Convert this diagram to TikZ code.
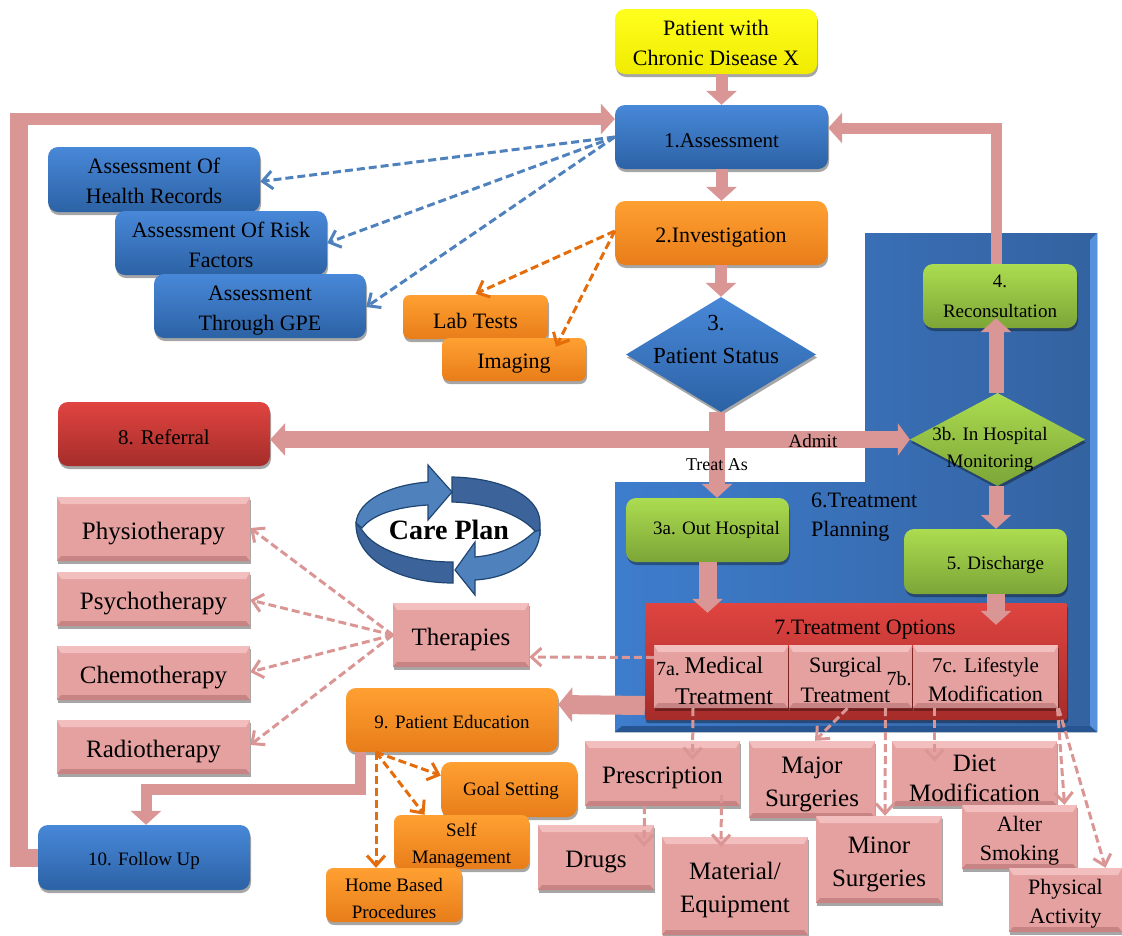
\documentclass[tikz,border=0pt]{standalone}
\usepackage{fontspec}
\usepackage{xcolor}
\setmainfont{Liberation Serif}
\usetikzlibrary{arrows.meta,shapes.geometric,shadows}

\newcommand{\fsize}[2]{\fontsize{#1}{#2}\selectfont}
\newcommand{\drop}{\rule{0pt}{1.05em}}

\tikzset{
	basebox/.style={rectangle, inner sep=0pt, align=center, text=black,
		drop shadow={shadow xshift=1pt, shadow yshift=-3pt, opacity=0.35, fill=black}},
	boxsize/.style 2 args={minimum width=#1pt, minimum height=#2pt},
	roundbox/.style={basebox, rounded corners=10pt},
	yellowbox/.style={roundbox, top color=YELLOW_TOP, bottom color=YELLOW_LOW},
	bluebox/.style={roundbox, top color=BLUE_TOP, bottom color=BLUE_LOW},
	orangebox/.style={roundbox, top color=ORANGE_TOP, bottom color=ORANGE_LOW},
	greenbox/.style={roundbox, top color=GREEN_TOP, bottom color=GREEN_LOW},
	redbox/.style={roundbox, top color=RED_TOP, bottom color=RED_LOW},
	pinkbox/.style={basebox, fill=PINK, path picture={
		\fill[PINK_LIGHT] (path picture bounding box.north west) -- (path picture bounding box.north east)
			-- ([xshift=-4pt,yshift=-7pt]path picture bounding box.north east)
			-- ([xshift=4pt,yshift=-7pt]path picture bounding box.north west) -- cycle;
		\fill[PINK_DARK] (path picture bounding box.south west) -- (path picture bounding box.south east)
			-- ([xshift=-4pt,yshift=5pt]path picture bounding box.south east)
			-- ([xshift=4pt,yshift=5pt]path picture bounding box.south west) -- cycle;
	}},
	statusdiamond/.style={diamond, inner sep=0pt, top color=BLUE_TOP, bottom color=BLUE_LOW,
		drop shadow={shadow xshift=1pt, shadow yshift=-3pt, opacity=0.35, fill=black}},
	wardiamond/.style={diamond, inner sep=0pt, top color=GREEN_TOP, bottom color=GREEN_LOW,
		drop shadow={shadow xshift=1pt, shadow yshift=-3pt, opacity=0.35, fill=black}},
	plaintext/.style={inner sep=0pt, align=center, text=black},
	flow/.style={draw=FLOW, line width=#1},
	flowtip/.style={-{Triangle[length=14pt,width=30pt]}},
	pinkdash/.style={draw=FLOW, line width=3pt, dash pattern=on 8pt off 4pt, -{Straight Barb[length=10pt,width=18pt]}},
	bluedash/.style={draw=RING_LIGHT, line width=3pt, dash pattern=on 8pt off 4pt, -{Straight Barb[length=10pt,width=18pt]}},
	orangedash/.style={draw=ORANGE_DASH, line width=3pt, dash pattern=on 8pt off 4pt, -{Straight Barb[length=10pt,width=18pt]}}
}

\begin{document}
\begin{tikzpicture}[x=1pt, y=-1pt]
	\definecolor{YELLOW_TOP}{RGB}{255, 255, 30}
	\definecolor{YELLOW_LOW}{RGB}{240, 235, 0}
	\definecolor{BLUE_TOP}{RGB}{72, 136, 216}
	\definecolor{BLUE_LOW}{RGB}{44, 98, 165}
	\definecolor{ORANGE_TOP}{RGB}{255, 160, 50}
	\definecolor{ORANGE_LOW}{RGB}{232, 125, 25}
	\definecolor{GREEN_TOP}{RGB}{172, 220, 80}
	\definecolor{GREEN_LOW}{RGB}{124, 165, 55}
	\definecolor{RED_TOP}{RGB}{224, 68, 64}
	\definecolor{RED_LOW}{RGB}{165, 45, 42}
	\definecolor{PINK}{RGB}{229, 160, 160}
	\definecolor{PINK_LIGHT}{RGB}{242, 190, 190}
	\definecolor{PINK_DARK}{RGB}{200, 132, 132}
	\definecolor{FLOW}{RGB}{217, 150, 148}
	\definecolor{RING_LIGHT}{RGB}{79, 129, 189}
	\definecolor{RING_DARK}{RGB}{60, 100, 155}
	\definecolor{RING_EDGE}{RGB}{32, 70, 115}
	\definecolor{PANEL_LEFT}{RGB}{62, 125, 205}
	\definecolor{PANEL_RIGHT}{RGB}{52, 98, 160}
	\definecolor{PANEL_EDGE}{RGB}{85, 145, 220}
	\definecolor{PANEL_LOW}{RGB}{38, 85, 145}
	\definecolor{ORANGE_DASH}{RGB}{228, 108, 10}

	\useasboundingbox (0,0) rectangle (1122,935);

	% panel behind the treatment part
	\fill[left color=PANEL_LEFT, right color=PANEL_RIGHT] (865,233) -- (1097,233) -- (1097,732) -- (615,732)
		-- (615,482) -- (865,482) -- cycle;
	\fill[PANEL_EDGE] (1090,240) -- (1097,233) -- (1097,732) -- (1090,726) -- cycle;
	\fill[PANEL_LOW] (622,726) -- (1090,726) -- (1097,732) -- (615,732) -- cycle;

	% care plan ring
	\begin{scope}[draw=RING_EDGE, line width=1.2pt]
		\filldraw[fill=RING_DARK] (452,477) .. controls (500,478) and (540,495) .. (540,523)
			-- (540,535) -- (534,530) .. controls (520,515) and (490,503) .. (452,502) -- cycle;
		\filldraw[fill=RING_DARK] (356,523) .. controls (355,560) and (400,583) .. (453,583)
			-- (453,562) .. controls (410,562) and (375,550) .. (362,530) -- cycle;
		\filldraw[fill=RING_LIGHT] (356,523) .. controls (358,500) and (390,485) .. (428,482)
			-- (428,465) -- (452,492) -- (428,520) -- (428,505)
			.. controls (395,507) and (372,515) .. (362,528) -- cycle;
		\filldraw[fill=RING_LIGHT] (540,530) .. controls (540,560) and (510,578) .. (475,580)
			-- (475,595) -- (455,570) -- (475,542) -- (475,557)
			.. controls (500,555) and (520,545) .. (534,532) -- cycle;
	\end{scope}
	\node[plaintext, font=\fsize{28}{30}\bfseries] (careplan) at (449,530) {Care Plan};

	% main boxes
	\node[yellowbox, boxsize={202}{65}, font=\fsize{22}{30}] (patient) at (716,41.5) {\rule{0pt}{19pt}Patient with\\Chronic Disease X};
	\node[bluebox, boxsize={213}{64}, font=\fsize{21}{26}] (assess) at (721.5,137) {\drop 1.Assessment};
	\node[orangebox, boxsize={212}{64}, font=\fsize{22}{26}] (invest) at (721,233) {\drop 2.Investigation};
	\node[statusdiamond, minimum width=190pt, minimum height=115pt] (status) at (721,354.5) {};
	\node[plaintext, font=\fsize{23}{33}] (statustext) at (716,339) {3.\\Patient Status};
	\node[bluebox, boxsize={212}{65}, font=\fsize{22}{30}] (records) at (154,179.5) {\rule{0pt}{19pt}Assessment Of\\Health Records};
	\node[bluebox, boxsize={212}{64}, font=\fsize{22}{30}] (risk) at (221,243) {\rule{0pt}{19pt}Assessment Of Risk\\Factors};
	\node[bluebox, boxsize={212}{64}, font=\fsize{22}{30}] (gpe) at (260,306) {\rule{0pt}{24pt}Assessment\\Through GPE};
	\node[orangebox, boxsize={145}{44}, font=\fsize{22}{26}, rounded corners=7pt] (labtests) at (475.5,317) {\drop Lab Tests};
	\node[orangebox, boxsize={144}{43}, font=\fsize{22}{26}, rounded corners=7pt] (imaging) at (514,359.5) {\drop Imaging};
	\node[redbox, boxsize={212}{64}, font=\fsize{21}{26}] (referral) at (164,434) {\drop 8. Referral};
	\node[greenbox, boxsize={154}{64}, font=\fsize{19}{30}] (recon) at (1000,296) {4.\\Reconsultation};
	\node[wardiamond, minimum width=175pt, minimum height=93pt] (monitor) at (997.5,439.5) {};
	\node[plaintext, font=\fsize{19}{27}] (monitortext) at (990,449) {3b. In Hospital\\Monitoring};
	\node[greenbox, boxsize={163}{65}, font=\fsize{19}{26}] (discharge) at (985.5,561.5) {\drop\hspace*{20pt}5. Discharge};
	\node[greenbox, boxsize={163}{64}, font=\fsize{19}{26}] (outhosp) at (707.5,530) {\hspace*{18pt}3a. Out Hospital};
	\node[plaintext, font=\fsize{22}{29}, align=left, anchor=north west] (planning) at (811,493) {6.Treatment\\Planning};

	% treatment options
	\node[roundbox, boxsize={422}{117}, rounded corners=2pt, top color=RED_TOP, bottom color=RED_LOW] (options) at (856,661.5) {};
	\node[plaintext, font=\fsize{22}{26}] (optionstext) at (865,630) {7.Treatment Options};
	\node[pinkbox, boxsize={134}{63}, font=\fsize{24}{31}] (medical) at (721,676.5) {\drop\hspace*{6pt}Medical\\\hspace*{6pt}Treatment};
	\node[pinkbox, boxsize={123}{63}, font=\fsize{22}{30}] (surgical) at (850.5,676.5) {\drop\hspace*{-10pt}Surgical\\\hspace*{-10pt}Treatment};
	\node[pinkbox, boxsize={145}{63}, font=\fsize{21}{29}] (lifestyle) at (985.5,676.5) {\drop 7c. Lifestyle\\\fsize{22}{29}Modification};
	\node[plaintext, font=\fsize{20}{24}] (medicalmark) at (668,669) {7a.};
	\node[plaintext, font=\fsize{20}{24}] (surgicalmark) at (899,679) {7b.};

	% left column
	\node[pinkbox, boxsize={193}{64}, font=\fsize{25}{30}] (physio) at (153.5,529) {\drop Physiotherapy};
	\node[pinkbox, boxsize={193}{54}, font=\fsize{25}{30}] (psycho) at (153.5,599) {\drop Psychotherapy};
	\node[pinkbox, boxsize={193}{54}, font=\fsize{25}{30}] (chemo) at (153.5,673) {\drop Chemotherapy};
	\node[pinkbox, boxsize={193}{54}, font=\fsize{25}{30}] (radio) at (153.5,747) {\drop Radiotherapy};
	\node[pinkbox, boxsize={136}{64}, font=\fsize{25}{30}] (therapies) at (461,635) {\drop Therapies};
	\node[orangebox, boxsize={212}{64}, font=\fsize{19}{26}] (education) at (452,720) {\rule{0pt}{17pt}9. Patient Education};
	\node[orangebox, boxsize={136}{55}, font=\fsize{19}{26}] (goals) at (509,789.5) {\rule{0pt}{17pt}\hspace*{4pt}Goal Setting};
	\node[orangebox, boxsize={135}{54}, font=\fsize{19}{27}, rounded corners=7pt] (selfman) at (461.5,842) {\drop Self\\Management};
	\node[orangebox, boxsize={136}{54}, font=\fsize{19}{27}, rounded corners=7pt] (homebased) at (394,895) {\drop Home Based\\Procedures};
	\node[bluebox, boxsize={212}{65}, font=\fsize{19}{26}] (followup) at (144,857.5) {\drop 10. Follow Up};

	% lower treatment boxes
	\node[pinkbox, boxsize={155}{65}, font=\fsize{25}{30}] (prescript) at (662.5,773.5) {\drop Prescription};
	\node[pinkbox, boxsize={126}{77}, font=\fsize{25}{33}] (major) at (812,779.5) {\drop Major\\Surgeries};
	\node[pinkbox, boxsize={165}{65}, font=\fsize{25}{30}] (diet) at (974.5,773.5) {\drop Diet\\Modification};
	\node[pinkbox, boxsize={116}{65}, font=\fsize{25}{30}] (drugs) at (596,857.5) {\drop Drugs};
	\node[pinkbox, boxsize={146}{98}, font=\fsize{25}{33}] (material) at (735,886) {\drop Material/\\Equipment};
	\node[pinkbox, boxsize={126}{87}, font=\fsize{25}{33}] (minor) at (879,859.5) {\drop Minor\\Surgeries};
	\node[pinkbox, boxsize={115}{64}, font=\fsize{22}{29}] (smoking) at (1019.5,837) {\drop Alter\\Smoking};
	\node[pinkbox, boxsize={113}{64}, font=\fsize{22}{29}] (activity) at (1065.5,900) {\drop Physical\\Activity};

	% solid connectors
	\draw[flow=12pt, flowtip] ([xshift=5.5pt]patient.south) -- (assess.north);
	\draw[flow=12pt, flowtip] (assess.south) -- ([xshift=0.5pt]invest.north);
	\draw[flow=12pt, flowtip] (invest.south) -- (status.north);
	\draw[flow=17pt, {Triangle[length=15pt,width=32pt]}-{Triangle[length=12pt,width=32pt]}] ([yshift=-5.5pt]referral.east) -- (monitor.west);
	\draw[flow=16pt, flowtip] ([xshift=-4pt]status.south) -- ([xshift=9.5pt]outhosp.north);
	\draw[flow=15pt, flowtip] ([xshift=-1.5pt]monitor.north) -- ([xshift=-4pt,yshift=10pt]recon.south);
	\draw[flow=11pt, flowtip] ([xshift=-4pt]recon.north) |- ([yshift=9pt]assess.east);
	\draw[flow=15pt, flowtip] ([xshift=-1.5pt]monitor.south) -- ([xshift=10.5pt]discharge.north);
	\draw[flow=18pt, flowtip] (outhosp.south) -- ([xshift=-148.5pt,yshift=-10pt]options.north);
	\draw[flow=18pt, flowtip] ([xshift=10.5pt]discharge.south) -- ([xshift=140pt,yshift=-22pt]options.north);
	\draw[flow=19pt, -{Triangle[length=14pt,width=34pt]}] ([yshift=-44pt]options.west) -- ([yshift=15.5pt]education.east);
	\coordinate (bend) at (146,789);
	\draw[flow=11pt, flowtip] ([xshift=-92pt]education.south) |- (bend) -- ([xshift=2pt]followup.north);
	\coordinate (turn) at (19,113);
	\draw[flow=18pt] (followup.west) -| (turn);
	\draw[flow=12pt, flowtip] ([xshift=-9pt,yshift=-6pt]turn) -- ([yshift=18pt]assess.west);

	% dashed connectors
	\draw[bluedash] (assess.west) -- ([yshift=-2pt]records.east);
	\draw[bluedash] (assess.west) -- (risk.east);
	\draw[bluedash] (assess.west) -- ([yshift=-1pt]gpe.east);
	\draw[orangedash] ([yshift=2pt]invest.west) -- ([yshift=1pt]labtests.north);
	\draw[orangedash] ([yshift=2pt]invest.west) -- ([xshift=42pt,yshift=-9pt]imaging.north);
	\draw[pinkdash] (therapies.west) -- ([yshift=1pt]physio.east);
	\draw[pinkdash] (therapies.west) -- ([yshift=-1pt]psycho.east);
	\draw[pinkdash] (therapies.west) -- ([yshift=1pt]chemo.east);
	\draw[pinkdash] (therapies.west) -- ([yshift=2pt]radio.east);
	\draw[pinkdash] ([yshift=19pt]medical.west) -- ([yshift=-22pt]therapies.east);
	\draw[orangedash] ([xshift=-76pt]education.south) -- ([yshift=14pt]goals.west);
	\draw[orangedash] ([xshift=-76pt]education.south) -- ([xshift=-37pt]selfman.north);
	\draw[orangedash] ([xshift=-76pt]education.south) -- ([xshift=-18pt]homebased.north);
	\draw[pinkdash] ([xshift=-28pt]medical.south) -- ([xshift=30pt,yshift=-19pt]prescript.north);
	\draw[pinkdash] ([xshift=-3pt]surgical.south) -- ([xshift=3pt]major.north);
	\draw[pinkdash] ([xshift=35pt]surgical.south) -- ([xshift=6pt]minor.north);
	\draw[pinkdash] ([xshift=-51pt]lifestyle.south) -- ([xshift=-40pt,yshift=-21pt]diet.north);
	\draw[pinkdash] ([xshift=72pt]lifestyle.south) -- ([xshift=45pt]smoking.north);
	\draw[pinkdash] ([xshift=73pt]lifestyle.south) -- ([xshift=40pt]activity.north);
	\draw[pinkdash] ([xshift=-18pt]prescript.south) -- ([xshift=48pt,yshift=-22pt]drugs.north);
	\draw[pinkdash] ([xshift=59pt,yshift=11pt]prescript.south) -- ([xshift=-14pt,yshift=-10pt]material.north);

	% labels on connectors
	\node[plaintext, font=\fsize{19}{22}] (admit) at (813,441) {Admit};
	\node[plaintext, font=\fsize{18}{22}] (treatas) at (717,465) {Treat As};
\end{tikzpicture}
\end{document}
